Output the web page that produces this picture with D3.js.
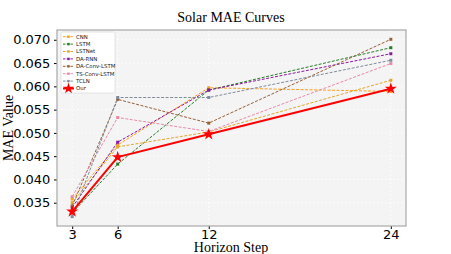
<html>
<head>
<meta charset="UTF-8" />
<script src="https://d3js.org/d3.v7.min.js"></script>
<style>
  body { margin: 0; background: #fff; }
</style>
</head>
<body>
<div id="chart"></div>
<script>
var steps = [3, 6, 12, 24]
var yTicks = [0.035, 0.040, 0.045, 0.050, 0.055, 0.060, 0.065, 0.070]

var cnn = [0.0358, 0.0474, 0.0597, 0.0589]
var lstm = [0.0328, 0.0433, 0.0592, 0.0683]
var lstnet = [0.0350, 0.0470, 0.0502, 0.0613]
var daRnn = [0.0340, 0.0480, 0.0592, 0.0670]
var daConvLstm = [0.0343, 0.0572, 0.0521, 0.0701]
var tsConvLstm = [0.0363, 0.0533, 0.0503, 0.0649]
var tcln = [0.0320, 0.0576, 0.0576, 0.0656]
var ours = [0.0331, 0.0448, 0.0497, 0.0595]

var names = ["CNN", "LSTM", "LSTNet", "DA-RNN", "DA-Conv-LSTM", "TS-Conv-LSTM", "TCLN", "Our"]
var colors = ["#ff9f1c", "#2a7d2a", "#e0a82e", "#8b1a9b", "#9a6036", "#e88aa8", "#7f8c9c", "#ff0000"]
var series = [cnn, lstm, lstnet, daRnn, daConvLstm, tsConvLstm, tcln, ours]

var width = 451, height = 254
var margin = {top: 30, right: 45, bottom: 28, left: 57}

var svg = d3.select("#chart").append("svg")
  .attr("width", width).attr("height", height)

var x = d3.scaleLinear().domain([2, 25]).range([margin.left, width - margin.right])
var y = d3.scaleLinear().domain([0.030, 0.0721]).range([height - margin.bottom, margin.top])

// plot background
svg.append("rect")
  .attr("x", margin.left).attr("y", margin.top)
  .attr("width", width - margin.left - margin.right)
  .attr("height", height - margin.top - margin.bottom)
  .attr("fill", "#f4f4f4")

// grid
svg.append("g").selectAll("line").data(steps).enter().append("line")
  .attr("x1", function(d) { return x(d) }).attr("x2", function(d) { return x(d) })
  .attr("y1", margin.top).attr("y2", height - margin.bottom)
  .attr("stroke", "#fff").attr("stroke-width", 0.8).attr("stroke-dasharray", "2,2")
svg.append("g").selectAll("line").data(yTicks).enter().append("line")
  .attr("x1", margin.left).attr("x2", width - margin.right)
  .attr("y1", function(d) { return y(d) }).attr("y2", function(d) { return y(d) })
  .attr("stroke", "#fff").attr("stroke-width", 0.8).attr("stroke-dasharray", "2,2")

// axes
var xAxis = svg.append("g")
  .attr("transform", "translate(0," + (height - margin.bottom) + ")")
  .call(d3.axisBottom(x).tickValues(steps).tickSize(3).tickSizeOuter(0))
xAxis.select(".domain").remove()
xAxis.selectAll("text").style("font-family", "DejaVu Sans").style("font-size", "13px")
  .attr("y", 4).attr("dy", "0.71em")

var yAxis = svg.append("g")
  .attr("transform", "translate(" + margin.left + ",0)")
  .call(d3.axisLeft(y).tickValues(yTicks).tickFormat(d3.format(".3f")).tickSize(3).tickSizeOuter(0))
yAxis.select(".domain").remove()
yAxis.selectAll("text").style("font-family", "DejaVu Sans").style("font-size", "13px").attr("dx", "-0.05em")

// border
svg.append("rect")
  .attr("x", margin.left).attr("y", margin.top)
  .attr("width", width - margin.left - margin.right)
  .attr("height", height - margin.top - margin.bottom)
  .attr("fill", "none").attr("stroke", "#a8a8a8").attr("stroke-width", 1.2)

var line = d3.line().x(function(d, i) { return x(steps[i]) }).y(function(d) { return y(d) })

var star = d3.symbol().type(d3.symbolStar)

series.forEach(function(s, k) {
  var isOurs = k == 7
  svg.append("path").datum(s)
    .attr("d", line)
    .attr("fill", "none")
    .attr("stroke", colors[k])
    .attr("stroke-width", isOurs ? 2 : 1)
    .attr("stroke-dasharray", isOurs ? null : "3,1.5")
  svg.append("g").selectAll("path").data(s).enter().append("path")
    .attr("transform", function(d, i) { return "translate(" + x(steps[i]) + "," + y(d) + ")" })
    .attr("d", isOurs ? star.size(45)() : d3.symbol().type(d3.symbolSquare).size(9)())
    .attr("fill", colors[k])
})

// legend
var lg = svg.append("g").attr("transform", "translate(61,32)")
lg.append("rect").attr("width", 54).attr("height", 61)
  .attr("fill", "#fff").attr("stroke", "#ddd").attr("stroke-width", 0.8).attr("rx", 1.5)
names.forEach(function(n, k) {
  var yy = 4.7 + k * 7.4
  var isOurs = k == 7
  lg.append("line").attr("x1", 2).attr("x2", 13).attr("y1", yy).attr("y2", yy)
    .attr("stroke", colors[k]).attr("stroke-width", isOurs ? 2 : 1)
    .attr("stroke-dasharray", isOurs ? null : "2.5,1.2")
  lg.append("path").attr("transform", "translate(7.5," + yy + ")")
    .attr("d", isOurs ? star.size(40)() : d3.symbol().type(d3.symbolSquare).size(6)())
    .attr("fill", colors[k])
  lg.append("text").attr("x", 15).attr("y", yy + 1.9)
    .style("font-family", "DejaVu Sans").style("font-size", "5.4px").attr("fill", "#222")
    .text(n)
})

// title and labels
svg.append("text").attr("x", 231).attr("y", 22).attr("text-anchor", "middle")
  .style("font-family", "Liberation Serif").style("font-size", "14px").text("Solar MAE Curves")
svg.append("text").attr("x", 231).attr("y", 252).attr("text-anchor", "middle")
  .style("font-family", "Liberation Serif").style("font-size", "14px").text("Horizon Step")
svg.append("text").attr("transform", "translate(13," + 128 + ") rotate(-90)").attr("text-anchor", "middle")
  .style("font-family", "Liberation Serif").style("font-size", "14px").text("MAE Value")
</script>
</body>
</html>
